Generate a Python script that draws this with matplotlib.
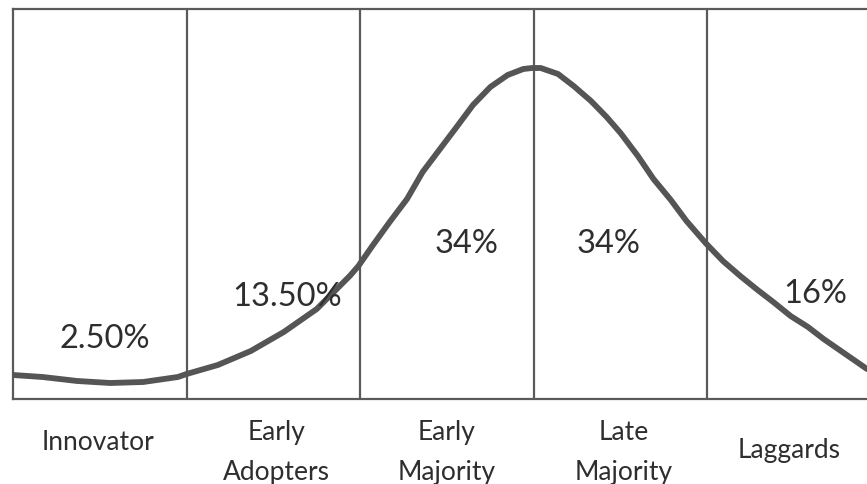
import matplotlib
matplotlib.use("Agg")
import matplotlib.pyplot as plt

plt.rcParams['font.family'] = ['Lato', 'DejaVu Sans']

# adopter categories and their shares
categories = ['Innovator', 'Early\nAdopters', 'Early\nMajority', 'Late\nMajority', 'Laggards']
shares = ['2.50%', '13.50%', '34%', '34%', '16%']
boundaries = [1, 2, 3, 4]

# adoption curve (x in category widths, y in curve height units)
curve_x = [0.00, 0.17, 0.37, 0.56, 0.75, 0.95, 1.00, 1.18, 1.37, 1.56, 1.75, 1.94, 1.99,
           2.07, 2.17, 2.27, 2.36, 2.46, 2.56, 2.65, 2.75, 2.85, 2.94, 2.99,
           3.04, 3.14, 3.23, 3.33, 3.42, 3.50, 3.60, 3.69, 3.79, 3.88, 3.99,
           4.09, 4.19, 4.29, 4.38, 4.48, 4.58, 4.67, 4.77, 4.92]
curve_y = [24, 22, 18, 16, 17, 22, 25, 34, 48, 67, 90, 123, 133,
           153, 177, 200, 227, 250, 273, 294, 312, 324, 330, 331,
           331, 325, 313, 298, 282, 266, 243, 220, 199, 178, 156,
           138, 123, 109, 97, 83, 72, 60, 48, 30]

# where the share labels sit
share_x = [0.53, 1.58, 2.61, 3.43, 4.62]
share_y = [61, 103, 156, 156, 106]
cat_x = [0.49, 1.52, 2.50, 3.52, 4.47]
cat_y = [-43, -53, -53, -53, -51]

fig = plt.figure(figsize=(8.67, 4.85), dpi=100)
ax = fig.add_axes([13 / 867, 85 / 485, 854 / 867, 390 / 485])
ax.set_xlim(0, 4.92)
ax.set_ylim(0, 390)

line_col = '#5a5a5a'
for b in boundaries:
    ax.axvline(b, color=line_col, lw=1.6)
for side in ['left', 'top', 'bottom']:
    ax.spines[side].set_color(line_col)
    ax.spines[side].set_linewidth(1.6)
ax.spines['right'].set_visible(False)
ax.set_xticks([])
ax.set_yticks([])

ax.plot(curve_x, curve_y, color='#555555', lw=4.2, solid_capstyle='round',
        solid_joinstyle='round', zorder=3)

for x, y, s in zip(share_x, share_y, shares):
    ax.text(x, y, s, ha='center', va='center', fontsize=23.5, color='#2e2e2e',
            zorder=4)

for x, y, c in zip(cat_x, cat_y, categories):
    ax.text(x, y, c, ha='center', va='center', fontsize=19, color='#2e2e2e',
            linespacing=1.75, clip_on=False)

fig.savefig('out.png', dpi=100)
